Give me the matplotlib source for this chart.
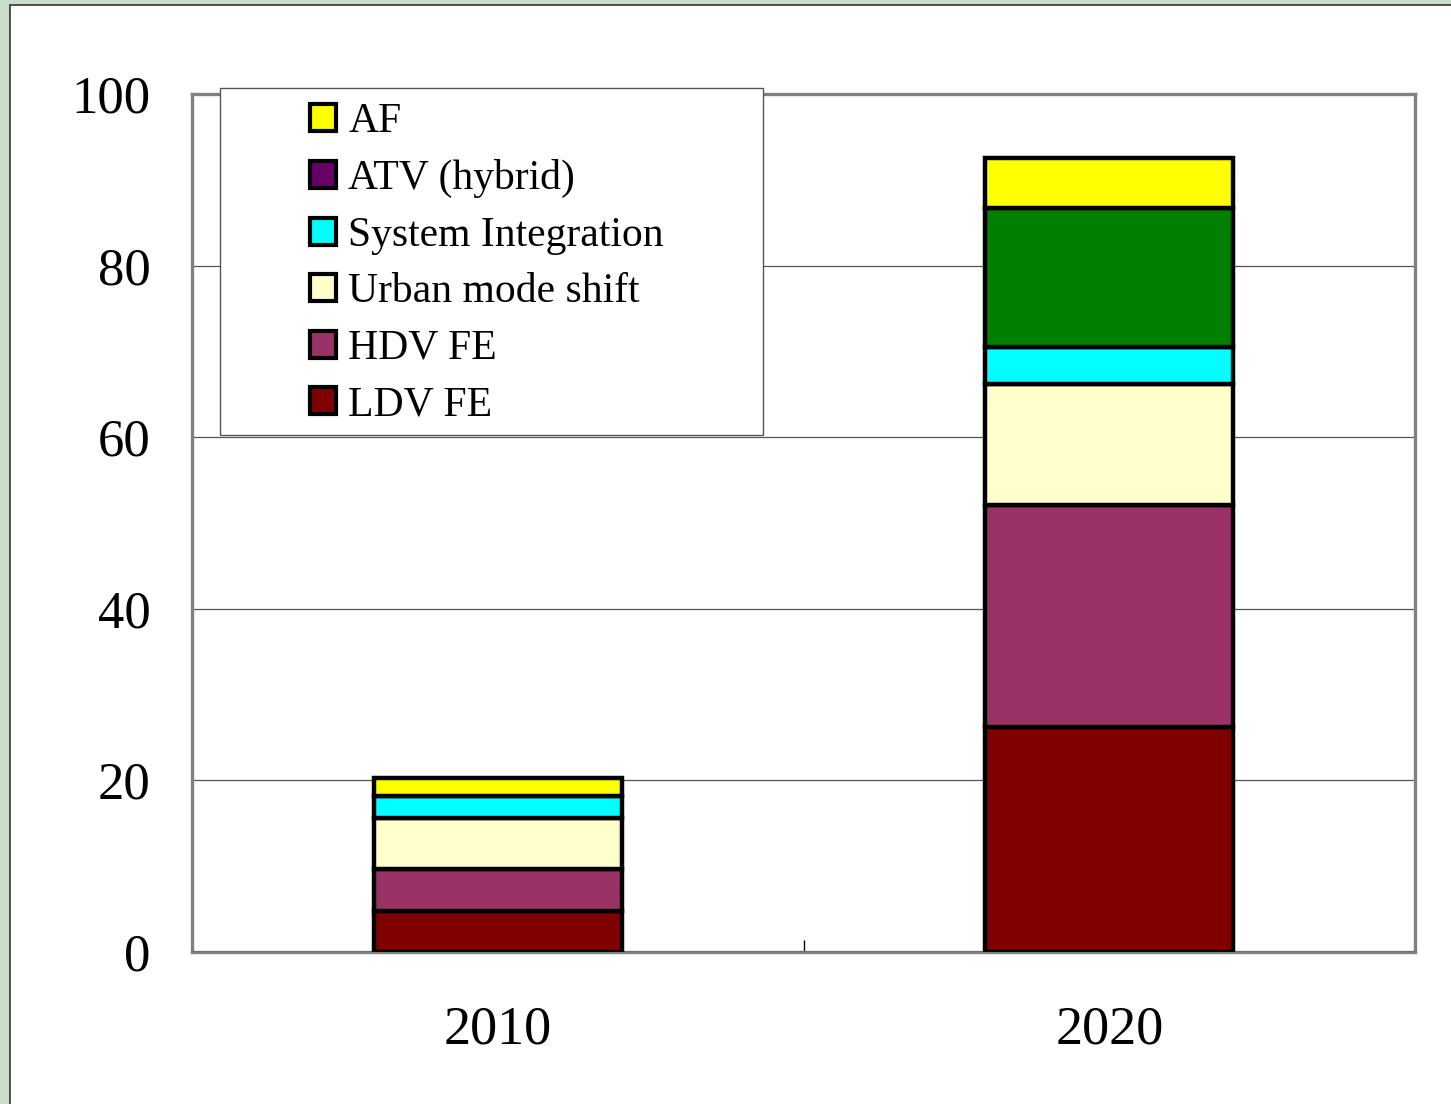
#!/usr/bin/env python3
# stacked reduction wedges, 2010 vs 2020

import numpy as np
import matplotlib
matplotlib.use("Agg")
import matplotlib.pyplot as plt
from matplotlib.patches import Patch, Rectangle

years = ["2010", "2020"]

# stacked bottom -> top
ldv_fe = [4.8, 26.2]
hdv_fe = [4.9, 25.9]
urban_shift = [5.9, 14.1]
system_integration = [2.6, 4.3]
atv_hybrid = [0.0, 16.2]
af = [2.1, 5.8]

series = [
    ("LDV FE", ldv_fe, "#800000"),
    ("HDV FE", hdv_fe, "#993366"),
    ("Urban mode shift", urban_shift, "#FFFFCC"),
    ("System Integration", system_integration, "#00FFFF"),
    ("ATV (hybrid)", atv_hybrid, "#660066"),
    ("AF", af, "#FFFF00"),
]
# the 2020 hybrid segment is filled green on the chart
bar_fill_override = {("ATV (hybrid)", 1): "#008000"}

yticks = [0, 20, 40, 60, 80, 100]

W, H = 1451, 1104
FONT = "Liberation Serif"


def plot(fig, ax):
    x = np.arange(len(years))
    bottom = np.zeros(len(years))
    for name, vals, color in series:
        vals = np.asarray(vals, dtype=float)
        colors = [bar_fill_override.get((name, i), color) for i in range(len(years))]
        for i in range(len(years)):
            if vals[i] <= 0:
                continue
            ax.bar(x[i], vals[i], bottom=bottom[i], width=0.405, color=colors[i],
                   edgecolor="black", linewidth=3.2, zorder=3)
        bottom += vals

    ax.set_xlim(-0.5, 1.5)
    ax.set_ylim(0, 100)
    ax.set_yticks(yticks)
    ax.set_yticklabels([str(v) for v in yticks], fontsize=38, family=FONT)
    ax.set_xticks(x)
    ax.set_xticklabels(years, fontsize=39, family=FONT)
    ax.tick_params(axis="y", length=0, pad=30)
    ax.tick_params(axis="x", which="major", length=0, pad=38)
    ax.set_xticks([0.5], minor=True)
    ax.tick_params(axis="x", which="minor", direction="in", length=9,
                   width=1, color="black")

    ax.yaxis.grid(True, color="#555555", linewidth=0.9, zorder=0)
    ax.set_axisbelow(True)
    for side in ["left", "right", "top", "bottom"]:
        ax.spines[side].set_color("#808080")
        ax.spines[side].set_linewidth(2.4)
    ax.axhline(0, color="#333333", linewidth=1, zorder=4)

    # legend box sits over the plot area
    box = Rectangle((220 / W, 1 - 435 / H), 543 / W, 347 / H,
                    transform=fig.transFigure, facecolor="white",
                    edgecolor="#555555", linewidth=1, zorder=10, clip_on=False)
    ax.add_artist(box)

    handles = [Patch(facecolor=c, edgecolor="black", linewidth=3, label=n)
               for n, _, c in series[::-1]]
    leg = ax.legend(handles=handles, loc="upper left",
                    bbox_to_anchor=(310 / W, 1 - 103 / H),
                    bbox_transform=fig.transFigure, frameon=False,
                    prop={"family": FONT, "size": 30},
                    handlelength=0.62, handleheight=0.62, handletextpad=0.3,
                    labelspacing=0.43, borderpad=0, borderaxespad=0)
    leg.set_zorder(11)


def main():
    fig = plt.figure(figsize=(W / 100, H / 100), dpi=100)
    fig.patch.set_facecolor("#CADDCA")
    fig.add_artist(Rectangle((10 / W, -0.1), 1.2, 1 - 5 / H + 0.1,
                             transform=fig.transFigure, facecolor="white",
                             edgecolor="#333333", linewidth=1.2, zorder=0))

    ax = fig.add_axes([192 / W, 152 / H, 1223 / W, 858 / H])
    ax.set_facecolor("white")
    plot(fig, ax)

    fig.savefig("out.png", dpi=100, facecolor=fig.get_facecolor())


if __name__ == "__main__":
    main()
